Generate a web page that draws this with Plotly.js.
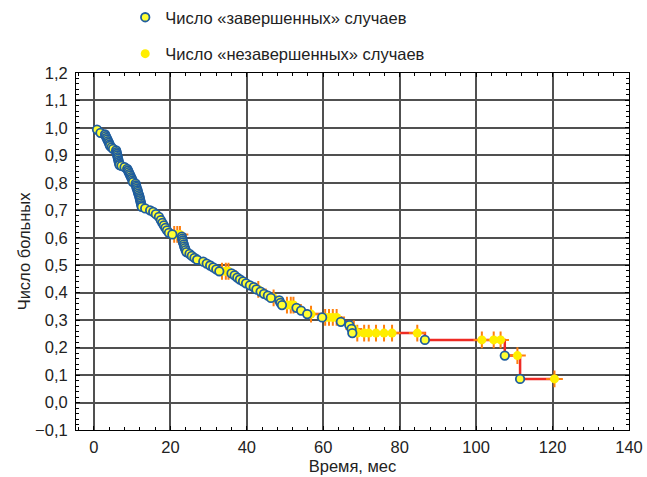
<!DOCTYPE html>
<html>
<head>
<meta charset="utf-8">
<script src="https://cdn.plot.ly/plotly-3.0.1.min.js"></script>
<style>html,body{margin:0;padding:0;background:#fff;}#chart{width:647px;height:477px;}</style>
</head>
<body>
<div id="chart"></div>
<script>
// Completed cases (events): time, months / survival
const eventTimes = [0.8,1.7,
  2.9,3.1,3.3,3.5,3.7,3.9,4.1,4.2,
  4.6,5.0,
  5.8,5.9,6.0,6.1,6.2,6.3,6.4,6.5,6.6,6.7,
  7.2,8.0,8.7,
  8.9,9.1,9.3,9.5,9.7,9.9,10.1,10.2,
  10.9,11.0,11.1,11.2,11.4,11.5,11.6,11.8,11.9,12.0,12.1,12.2,12.3,12.4,12.5,
  13.4,14.7,15.5,16.2,17.0,17.5,17.9,18.3,18.7,19.1,19.6,20.5,
  23.0,23.1,23.2,23.3,23.5,23.6,23.8,24.0,24.2,
  25.0,25.6,26.3,27.0,
  28.6,29.5,30.4,31.2,32.0,32.8,
  36.0,36.8,37.5,38.2,39.0,39.8,
  40.8,41.8,42.5,43.6,44.5,45.5,46.3,
  48.5,48.8,49.2,
  53.0,54.2,55.8,
  59.7,64.6,66.8,67.4,67.6,
  86.6,107.5,111.5];
const eventSurv = [0.994,0.982,
  0.976,0.970,0.964,0.958,0.952,0.946,0.940,0.935,
  0.929,0.924,
  0.918,0.912,0.906,0.900,0.894,0.888,0.882,0.876,0.870,0.865,
  0.862,0.857,0.851,
  0.845,0.839,0.833,0.827,0.821,0.815,0.809,0.803,
  0.797,0.791,0.785,0.779,0.773,0.767,0.761,0.755,0.749,0.743,0.737,0.731,0.725,0.719,0.713,
  0.707,0.700,0.694,0.686,0.676,0.664,0.654,0.645,0.636,0.627,0.618,0.612,
  0.604,0.597,0.590,0.583,0.576,0.569,0.562,0.555,0.548,
  0.541,0.534,0.527,0.520,
  0.513,0.506,0.499,0.492,0.485,0.478,
  0.470,0.463,0.455,0.448,0.441,0.434,
  0.427,0.420,0.412,0.404,0.396,0.389,0.381,
  0.372,0.363,0.355,
  0.345,0.335,0.322,
  0.310,0.294,0.282,0.268,0.253,
  0.228,0.171,0.086];

// Not completed cases (censored): time / survival
const censTimes = [21.0,21.8,22.5, 33.5,34.5,35.2, 43.0, 47.0, 50.5,51.5,52.2, 56.8,
  60.5,61.5,62.5,63.5, 68.0, 68.9,70.7,71.9,73.8,75.9,78.0, 84.6,
  101.5,104.6,106.4, 110.8, 120.5];
const censSurv = [0.612,0.612,0.612, 0.478,0.478,0.478, 0.412, 0.381, 0.355,0.355,0.355, 0.322,
  0.310,0.310,0.310,0.310, 0.268, 0.253,0.253,0.253,0.253,0.253,0.253, 0.253,
  0.228,0.228,0.228, 0.171, 0.086];

const legendNames = ['Число «завершенных» случаев', 'Число «незавершенных» случаев'];
const xTitle = 'Время, мес';
const yTitle = 'Число больных';

// Step (Kaplan-Meier) line built from the event arrays
const stepX = [0].concat(eventTimes, [Math.max(...censTimes)]);
const stepY = [1].concat(eventSurv, [eventSurv[eventSurv.length-1]]);

const traces = [
  {x: stepX, y: stepY, mode: 'lines', line: {shape: 'hv', color: '#ee2a24', width: 2.5},
   showlegend: false, hoverinfo: 'skip'},
  {x: censTimes, y: censSurv, mode: 'markers', showlegend: false,
   marker: {symbol: 'cross-thin-open', size: 12, line: {color: '#ee2a24', width: 2}}},
  {x: censTimes, y: censSurv, mode: 'markers', name: legendNames[1], legendgroup: 'b', legendrank: 2,
   marker: {symbol: 'circle', size: 9, color: '#ffee00', line: {width: 0}}},
  {x: eventTimes, y: eventSurv, mode: 'markers', name: legendNames[0], legendgroup: 'a', legendrank: 1,
   marker: {symbol: 'circle', size: 8.5, color: '#ffff33', line: {color: '#1f5d9e', width: 1.8}}}
];

const FONT = 'Liberation Sans, Arial, sans-serif';
const axisCommon = {
  showline: true, linecolor: '#000', linewidth: 1, mirror: 'allticks',
  showgrid: true, gridcolor: '#505050', gridwidth: 2,
  zeroline: false, ticks: 'inside', ticklen: 4, tickcolor: '#000',
  tickfont: {family: FONT, size: 16.5, color: '#222'}
};

const layout = {
  width: 647, height: 477,
  margin: {l: 76, r: 18, t: 73, b: 47},
  paper_bgcolor: '#fff', plot_bgcolor: '#fff',
  separators: ', ',
  font: {family: FONT, size: 16.5, color: '#222'},
  xaxis: Object.assign({}, axisCommon, {
    range: [-4.7, 140], dtick: 20, tick0: 0, ticklabelstandoff: 2,
    minor: {ticks: 'inside', dtick: 4, ticklen: 3, tickcolor: '#000', showgrid: false},
    title: {text: xTitle, font: {family: FONT, size: 16.5, color: '#222'}, standoff: 5}
  }),
  yaxis: Object.assign({}, axisCommon, {
    range: [-0.1, 1.2], dtick: 0.1, tick0: 0, tickformat: '.1f', ticklabelstandoff: 4,
    minor: {ticks: 'inside', dtick: 0.02, ticklen: 3, tickcolor: '#000', showgrid: false},
    title: {text: yTitle, font: {family: FONT, size: 16.5, color: '#222'}, standoff: 0}
  }),
  legend: {x: 0.089, xanchor: 'left', yref: 'container', y: 1.004, yanchor: 'top', orientation: 'v',
    traceorder: 'grouped', tracegroupgap: 12, bgcolor: 'rgba(0,0,0,0)',
    font: {family: FONT, size: 16.5, color: '#222'}},
  showlegend: true
};

Plotly.newPlot('chart', traces, layout, {displayModeBar: false, staticPlot: true});
</script>
</body>
</html>
